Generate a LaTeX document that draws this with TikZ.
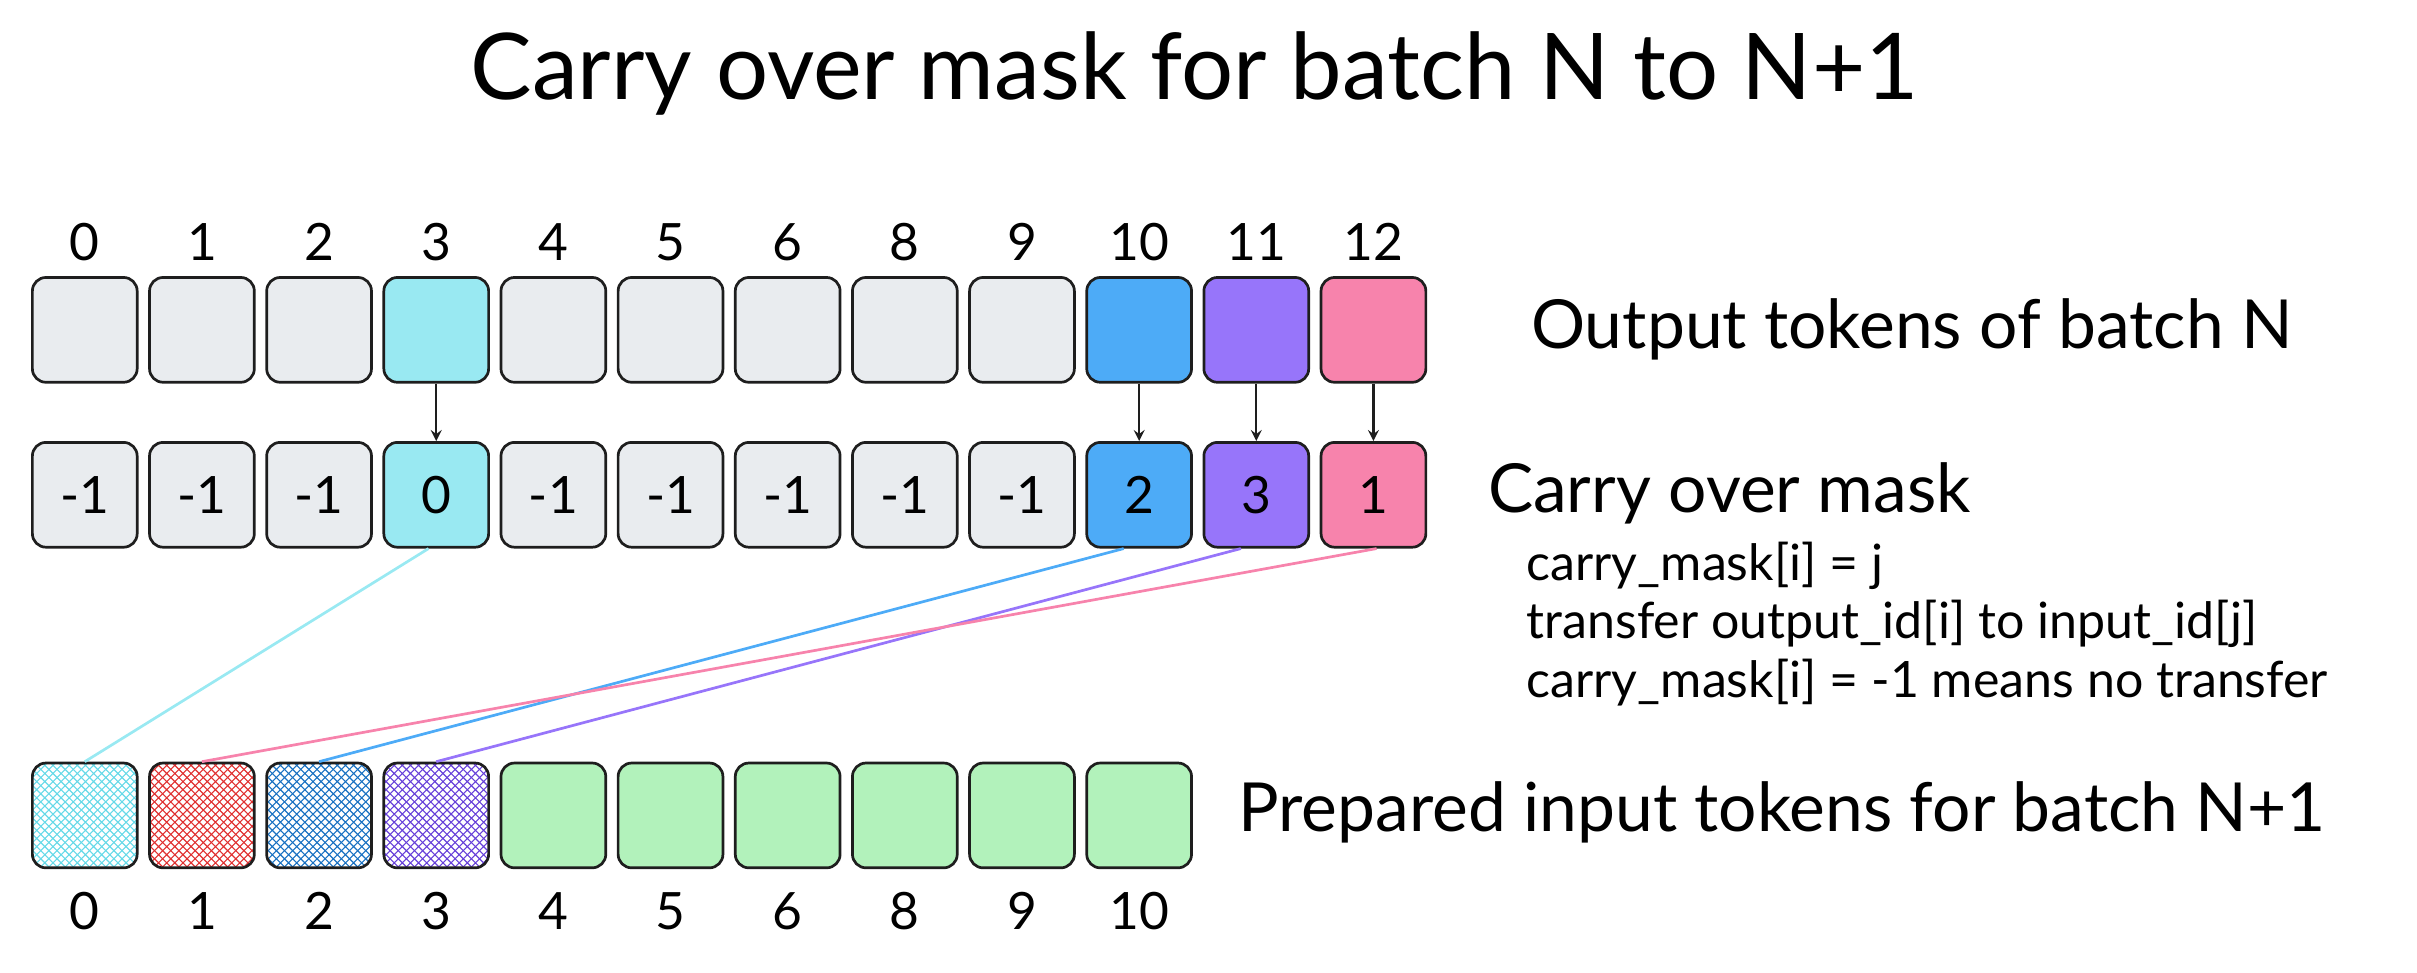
\documentclass[tikz,border=0pt]{standalone}
\usepackage{fontspec}
\setmainfont{Lato}
\usetikzlibrary{patterns}
\definecolor{gbox}{HTML}{E9ECEF}
\definecolor{cy}{HTML}{99E9F2}
\definecolor{bl}{HTML}{4DABF7}
\definecolor{pu}{HTML}{9775FA}
\definecolor{pk}{HTML}{F783AC}
\definecolor{gr}{HTML}{B2F2BB}
\definecolor{cyS}{HTML}{66D9E8}
\definecolor{rdS}{HTML}{E03131}
\definecolor{blS}{HTML}{1971C2}
\definecolor{puS}{HTML}{6741D9}
\definecolor{ink}{HTML}{1E1E1E}
\begin{document}
\begin{tikzpicture}[x=0.02cm,y=-0.02cm,
  box/.style={draw=ink,line width=1pt,rounded corners=5pt,minimum width=1.36cm,minimum height=1.36cm,inner sep=0pt,font=\fontsize{19}{22}\selectfont},
  idx/.style={font=\fontsize{19}{22}\selectfont,inner sep=0pt},
  lbl/.style={font=\fontsize{25}{29}\selectfont,anchor=west,inner sep=0pt},
  sm/.style={font=\fontsize{18.5}{22}\selectfont,anchor=west,inner sep=0pt},
  arr/.style={->,>=stealth,ink,line width=0.8pt},
  ln/.style={line width=1pt}]
\useasboundingbox (0,0) rectangle (1568,631);
\node[font=\fontsize{34}{40}\selectfont] (title) at (775,48) {Carry over mask for batch N to N+1};
% top row
\foreach \i/\l/\c in {0/0/gbox,1/1/gbox,2/2/gbox,3/3/cy,4/4/gbox,5/5/gbox,6/6/gbox,7/8/gbox,8/9/gbox,9/10/bl,10/11/pu,11/12/pk}{
  \node[box,fill=\c] (t\i) at (55+76*\i,214) {};
  \node[idx] (ti\i) at (55+76*\i,157) {\l};
}
\foreach \i/\v/\c in {0/-1/gbox,1/-1/gbox,2/-1/gbox,3/0/cy,4/-1/gbox,5/-1/gbox,6/-1/gbox,7/-1/gbox,8/-1/gbox,9/2/bl,10/3/pu,11/1/pk}{
  \node[box,fill=\c] (m\i) at (55+76*\i,321) {\v};
}
\foreach \i in {3,9,10,11}{ \draw[arr] (t\i.south) -- (m\i.north); }
% bottom row
\foreach \i/\c in {0/cyS,1/rdS,2/blS,3/puS}{
  \node[box,pattern=crosshatch,pattern color=\c] (b\i) at (55+76*\i,529) {};
}
\foreach \i in {4,...,9}{ \node[box,fill=gr] (b\i) at (55+76*\i,529) {}; }
\foreach \i/\l in {0/0,1/1,2/2,3/3,4/4,5/5,6/6,7/8,8/9,9/10}{
  \node[idx] (bi\i) at (55+76*\i,591) {\l};
}
\draw[ln,cy] ([xshift=-0.1cm]m3.south) -- (b0.north);
\draw[ln,bl] ([xshift=-0.2cm]m9.south) -- (b2.north);
\draw[ln,pu] ([xshift=-0.2cm]m10.south) -- (b3.north);
\draw[ln,pk] ([xshift=0.04cm]m11.south) -- (b1.north);
\node[lbl] (l1) at (993,214) {Output tokens of batch N};
\node[lbl] (l2) at (965,320) {Carry over mask};
\node[sm] (s1) at (990,367) {carry\_mask[i] = j};
\node[sm] (s2) at (990,405) {transfer output\_id[i] to input\_id[j]};
\node[sm] (s3) at (990,443) {carry\_mask[i] = -1 means no transfer};
\node[lbl] (l3) at (803,527) {Prepared input tokens for batch N+1};
\end{tikzpicture}
\end{document}
